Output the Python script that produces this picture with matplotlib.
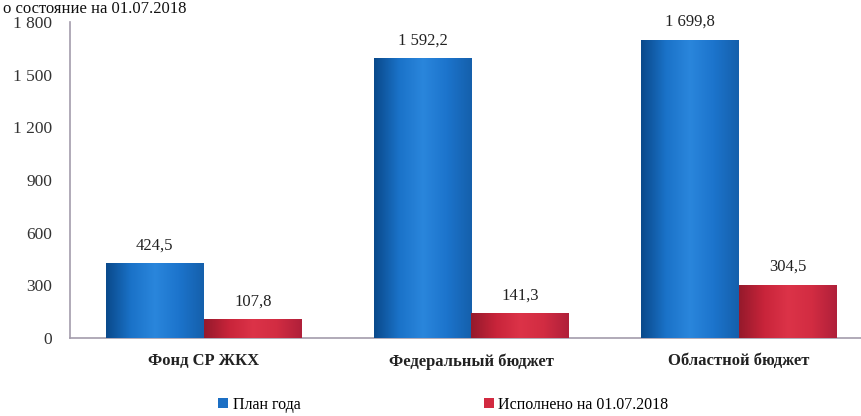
import numpy as np
import matplotlib
matplotlib.use("Agg")
import matplotlib.pyplot as plt
from matplotlib.colors import LinearSegmentedColormap

categories = ["Фонд СР ЖКХ", "Федеральный бюджет", "Областной бюджет"]
plan = [424.5, 1592.2, 1699.8]
done = [107.8, 141.3, 304.5]
plan_labels = ["424,5", "1 592,2", "1 699,8"]
done_labels = ["107,8", "141,3", "304,5"]
series_names = ["План года", "Исполнено на 01.07.2018"]
yticks = [0, 300, 600, 900, 1200, 1500, 1800]
ytick_labels = ["0", "300", "600", "900", "1 200", "1 500", "1 800"]
title_text = "о состояние на 01.07.2018"

plt.rcParams['font.family'] = ['Liberation Serif', 'DejaVu Serif']

fig = plt.figure(figsize=(8.61, 4.16), dpi=100)
ax = fig.add_axes([70/861, 78/416, (873-70)/861, (338-22)/416])

x = np.arange(len(categories))
w = 0.366
blue_base = "#1c6fc4"
red_base = "#d22a40"
b1 = ax.bar(x - w/2, plan, w, color=blue_base, label=series_names[0], zorder=2)
b2 = ax.bar(x + w/2, done, w, color=red_base, label=series_names[1], zorder=2)

blue_cmap = LinearSegmentedColormap.from_list("b", ["#0a4a8c", "#1a72c8", "#2a86dc", "#1c74cc", "#1560ac"])
red_cmap = LinearSegmentedColormap.from_list("r", ["#961a2c", "#c8243a", "#dc3348", "#d22c42", "#b0203a"])
grad = np.linspace(0, 1, 64).reshape(1, -1)
for bars, cm in ((b1, blue_cmap), (b2, red_cmap)):
    for p in bars:
        x0, y0 = p.get_x(), p.get_y()
        im = ax.imshow(grad, cmap=cm, aspect='auto',
                       extent=[x0, x0 + p.get_width(), y0, y0 + p.get_height()],
                       zorder=3)
        im.set_clip_path(p)

for i in range(len(categories)):
    ax.text(x[i] - w/2, plan[i] + 55, plan_labels[i], ha='center', va='bottom',
            fontsize=12, color='#222222')
    ax.text(x[i] + w/2, done[i] + 55, done_labels[i], ha='center', va='bottom',
            fontsize=12, color='#222222')

ax.set_xlim(-0.5, 2.5)
ax.set_ylim(0, 1800)
ax.set_yticks(yticks)
ax.set_yticklabels(ytick_labels, fontsize=12.5, color='#333333')
ax.set_xticks(x)
ax.set_xticklabels(categories, fontsize=12, color='#222222', fontweight='bold')
ax.tick_params(axis='y', length=0, pad=13)
ax.tick_params(axis='x', length=0, pad=11)
for s in ('top', 'right'):
    ax.spines[s].set_visible(False)
for s in ('left', 'bottom'):
    ax.spines[s].set_color('#a39cab')
    ax.spines[s].set_linewidth(1.2)
ax.set_zorder(1)

fig.text(0.003, 1 - 1/416, title_text, fontsize=12,
         ha='left', va='top', color='#111111')

fig.legend(handles=[b1, b2], labels=series_names, loc='center',
           bbox_to_anchor=(0.515, 11/416), ncol=2, frameon=False,
           fontsize=11.5, handlelength=0.6, handleheight=0.6, handletextpad=0.3,
           columnspacing=11.5)

fig.savefig("out.png", dpi=100)
